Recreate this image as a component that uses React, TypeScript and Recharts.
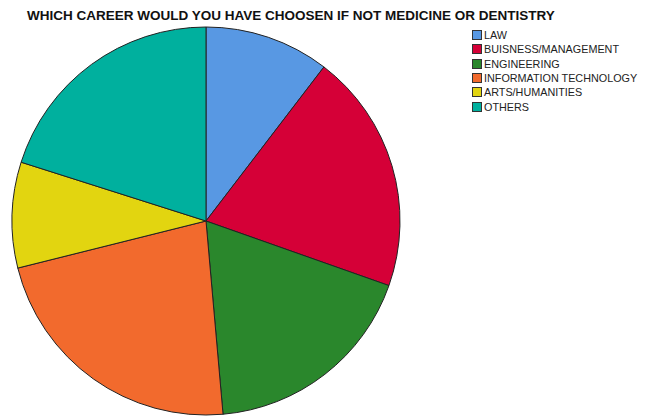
import React from 'react';
import { PieChart, Pie, Cell, Legend } from 'recharts';

const categories = [
  'LAW',
  'BUISNESS/MANAGEMENT',
  'ENGINEERING',
  'INFORMATION TECHNOLOGY',
  'ARTS/HUMANITIES',
  'OTHERS',
];
const values = [10.4, 20.0, 18.2, 22.5, 8.8, 20.1];
const colors = ['#5898e3', '#d50037', '#2a872c', '#f26a2d', '#e2d510', '#00b09e'];

const data = categories.map((name, i) => ({ name, value: values[i] }));

function LegendBox() {
  return (
    <div style={{ fontFamily: 'Liberation Sans, Arial, sans-serif', fontSize: 10.8, color: '#222' }}>
      {categories.map((c, i) => (
        <div key={c} style={{ display: 'flex', alignItems: 'center', height: 14.3 }}>
          <span
            style={{
              width: 10,
              height: 10,
              background: colors[i],
              border: '1px solid #333',
              marginRight: 2,
              boxSizing: 'border-box',
            }}
          />
          <span>{c}</span>
        </div>
      ))}
    </div>
  );
}

export default function App() {
  return (
    <div style={{ position: 'absolute', left: 0, top: 0, width: 645, height: 416, background: '#fff' }}>
      <div
        style={{
          position: 'absolute',
          left: 27,
          top: 8,
          fontFamily: 'Liberation Sans, Arial, sans-serif',
          fontWeight: 'bold',
          fontSize: 13.5,
          color: '#111',
          whiteSpace: 'nowrap',
        }}
      >
        WHICH CAREER WOULD YOU HAVE CHOOSEN IF NOT MEDICINE OR DENTISTRY
      </div>
      <PieChart width={645} height={416}>
        <Pie
          data={data}
          dataKey="value"
          nameKey="name"
          cx={201}
          cy={216}
          outerRadius={194}
          startAngle={90}
          endAngle={-270}
          stroke="#222"
          strokeWidth={1}
          isAnimationActive={false}
        >
          {data.map((d, i) => (
            <Cell key={d.name} fill={colors[i]} />
          ))}
        </Pie>
        <Legend
          layout="vertical"
          align="right"
          verticalAlign="top"
          content={() => <LegendBox />}
          wrapperStyle={{ left: 472, top: 28, width: 173 }}
        />
      </PieChart>
    </div>
  );
}
